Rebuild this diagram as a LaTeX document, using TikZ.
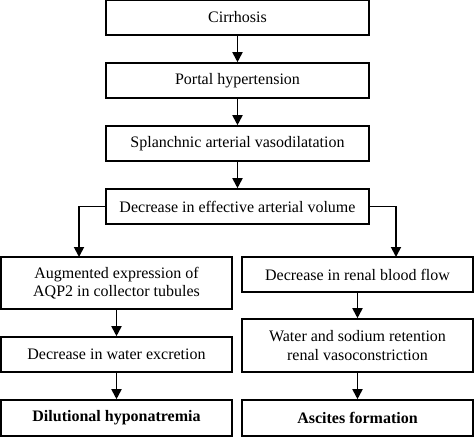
\documentclass[tikz,border=0pt]{standalone}
\usepackage{fontspec}
\setmainfont{Liberation Serif}
\usetikzlibrary{arrows.meta}
\begin{document}
\begin{tikzpicture}[x=1pt,y=-1pt,
  box/.style={draw, line width=1.6pt, inner sep=0pt, align=center,
    font=\fontsize{16}{18.5}\selectfont},
  arr/.style={line width=1.8pt, -{Triangle[length=10pt,width=10pt]}}]
\useasboundingbox (0,0) rectangle (474,437);
\node[box, minimum width=263pt, minimum height=35pt] (cir) at (237.5,17.5) {Cirrhosis};
\node[box, minimum width=263pt, minimum height=35pt] (por) at (237.5,80.5) {Portal hypertension};
\node[box, minimum width=263pt, minimum height=35pt] (spl) at (237.5,143.5) {Splanchnic arterial vasodilatation};
\node[box, minimum width=263pt, minimum height=35pt] (dec) at (237.5,206.5) {Decrease in effective arterial volume};
\node[box, minimum width=231pt, minimum height=52pt] (aug) at (116.5,283) {Augmented expression of\\AQP2 in collector tubules};
\node[box, minimum width=231pt, minimum height=35pt] (ren) at (357.5,274.5) {Decrease in renal blood flow};
\node[box, minimum width=231pt, minimum height=53pt] (wat) at (357.5,345.5) {Water and sodium retention\\renal vasoconstriction};
\node[box, minimum width=231pt, minimum height=35pt] (wex) at (116.5,354.5) {Decrease in water excretion};
\node[box, minimum width=231pt, minimum height=36pt] (dil) at (116.5,418) {\bfseries Dilutional hyponatremia};
\node[box, minimum width=231pt, minimum height=36pt] (asc) at (357.5,418) {\bfseries Ascites formation};
\coordinate (lt) at (79,257);
\coordinate (rt) at (396,257);
\draw[arr] (cir) -- (por);
\draw[arr] (por) -- (spl);
\draw[arr] (spl) -- (dec);
\draw[arr] (dec.west) -| (lt);
\draw[arr] (dec.east) -| (rt);
\draw[arr] (aug) -- (wex);
\draw[arr] (wex) -- (dil);
\draw[arr] (ren) -- (wat);
\draw[arr] (wat) -- (asc);
\end{tikzpicture}
\end{document}
